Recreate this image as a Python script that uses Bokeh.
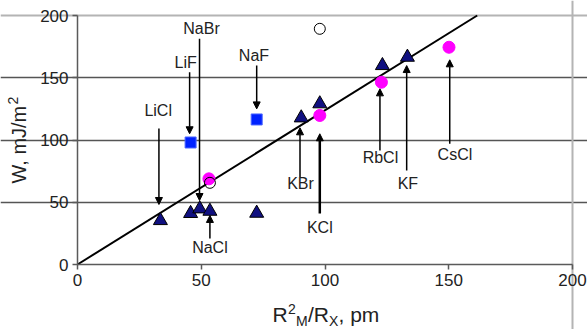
import math
from bokeh.plotting import figure
from bokeh.models import (Range1d, FixedTicker, ColumnDataSource, Arrow, NormalHead, Label,
                          LinearAxis, Grid)
from bokeh.core.properties import value
from bokeh.embed import file_html
from bokeh.resources import INLINE

# ---------------- data ----------------
sq_x = [45.7, 72.4]                 # LiF, NaF (blue squares)
sq_y = [98.0, 116.5]

tri_x = [33.5, 45.7, 49.4, 53.5, 72.4, 90.4, 97.9, 123.2, 133.3]
tri_y = [35.3, 41.0, 44.7, 42.8, 41.2, 117.8, 129.1, 159.8, 166.5]

mag_x = [53.1, 97.9, 122.8, 150.1]
mag_y = [68.8, 119.7, 146.4, 174.5]

open_x = [53.5, 97.9]
open_y = [65.6, 189.3]

fit_x = [0, 161.5]
fit_y = [0, 200]

names = ["LiCl", "LiF", "NaBr", "NaF", "NaCl", "KBr", "KCl", "RbCl", "KF", "CsCl"]
label_x = [32.6, 43.7, 50.1, 71.3, 53.5, 90.1, 97.9, 122.4, 133.5, 152.5]
label_y = [123.7, 162.5, 189.8, 167.9, 13.4, 64.8, 30.0, 86.2, 64.8, 88.4]
arrow_x = [32.9, 45.3, 49.3, 72.4, 53.5, 89.9, 97.9, 122.2, 133.0, 150.4]
arrow_y0 = [109.2, 154.5, 181.3, 159.8, 20.9, 70.3, 41.0, 91.6, 75.5, 96.9]
arrow_y1 = [48.2, 105.0, 51.4, 125.0, 39.4, 109.8, 105.0, 141.1, 159.8, 164.4]

ticks = [0, 50, 100, 150, 200]
grid_ticks = [50, 100, 150]
axis_lo, axis_hi = 0, 200

FONT = "Liberation Sans"
W, H = 587, 329
# plot box in canvas pixels
PX0, PX1 = 77, 572
PY0, PY1 = 264, 15
sx = (PX1 - PX0) / (axis_hi - axis_lo)
sy = (PY0 - PY1) / (axis_hi - axis_lo)

def dx(px):
    return axis_lo + (px - PX0) / sx

def dy(py):
    return axis_lo + (PY0 - py) / sy

p = figure(width=W, height=H, output_backend="svg", toolbar_location=None,
           x_range=Range1d(dx(0), dx(W)), y_range=Range1d(dy(H), dy(0)),
           x_axis_location=None, y_axis_location=None, min_border=0)
p.background_fill_color = "white"
p.border_fill_color = "white"
p.outline_line_color = None
for g in p.grid:
    g.visible = False

# grids
p.add_layout(Grid(dimension=1, ticker=FixedTicker(ticks=grid_ticks), bounds=(axis_lo, axis_hi),
                  grid_line_color="#555555", grid_line_width=1.5))
p.add_layout(Grid(dimension=1, ticker=FixedTicker(ticks=[axis_hi]), bounds=(axis_lo, axis_hi),
                  grid_line_color="#b4b4b4", grid_line_width=2))
p.add_layout(Grid(dimension=0, ticker=FixedTicker(ticks=[axis_hi]), bounds=(axis_lo, axis_hi),
                  grid_line_color="#b4b4b4", grid_line_width=2))

def style_axis(ax):
    ax.axis_line_color = "#5a5a5a"
    ax.axis_line_width = 1.5
    ax.major_tick_line_color = "#5a5a5a"
    ax.major_tick_line_width = 1.5
    ax.major_tick_out = 5
    ax.major_tick_in = 0
    ax.minor_tick_line_color = None
    ax.major_label_text_font = FONT
    ax.major_label_text_font_size = "17px"
    ax.major_label_text_color = "#222222"
    ax.major_label_standoff = 4

xax = LinearAxis(fixed_location=axis_lo, bounds=(axis_lo, axis_hi), ticker=FixedTicker(ticks=ticks))
yax = LinearAxis(fixed_location=axis_lo, bounds=(axis_lo, axis_hi), ticker=FixedTicker(ticks=ticks))
style_axis(xax)
style_axis(yax)
p.add_layout(xax, "below")
p.add_layout(yax, "left")

# regression line
p.line(fit_x, fit_y, line_color="black", line_width=2)

# markers
p.scatter(sq_x, sq_y, marker="square", size=11, fill_color="#0022ff", line_color="#4a66ff")
p.scatter(tri_x, tri_y, marker="triangle", size=14, fill_color="#101080", line_color="black", line_width=1)
p.scatter(mag_x, mag_y, marker="circle", size=12, fill_color="#ff00ff", line_color="#ff00ff")
p.scatter(open_x, open_y, marker="circle", size=11, fill_color=None, line_color="black", line_width=1)

# arrows
for i, n in enumerate(names):
    lw = 2.5 if n == "KCl" else 1.5
    p.add_layout(Arrow(x_start=arrow_x[i], y_start=arrow_y0[i], x_end=arrow_x[i], y_end=arrow_y1[i],
                       line_color="black", line_width=lw,
                       end=NormalHead(size=7, fill_color="black", line_color="black", line_width=1)))

src = ColumnDataSource(dict(x=label_x, y=label_y, t=names))
p.text(x="x", y="y", text="t", source=src, text_font=value(FONT), text_font_size="16px",
       text_color="#222222", text_align="center", text_baseline="middle")

def lab(px, py, text, size, angle=0.0):
    p.add_layout(Label(x=dx(px), y=dy(py), text=text, text_font=FONT, text_font_size=size,
                       text_color="#222222", text_align="left", text_baseline="middle",
                       angle=angle))

# x title: R^2_M/R_X, pm
lab(272, 314, "R", "21px")
lab(287.5, 308, "2", "14px")
lab(295.5, 320, "M", "14px")
lab(307.5, 314, "/R", "21px")
lab(328.5, 320, "X", "14px")
lab(338, 314, ", pm", "21px")

# y title: W, mJ/m^2 (rotated)
lab(18, 183, "W, mJ/m", "20px", math.pi / 2)
lab(12, 104, "2", "14px", math.pi / 2)

open("out.html", "w").write(file_html(p, INLINE))
